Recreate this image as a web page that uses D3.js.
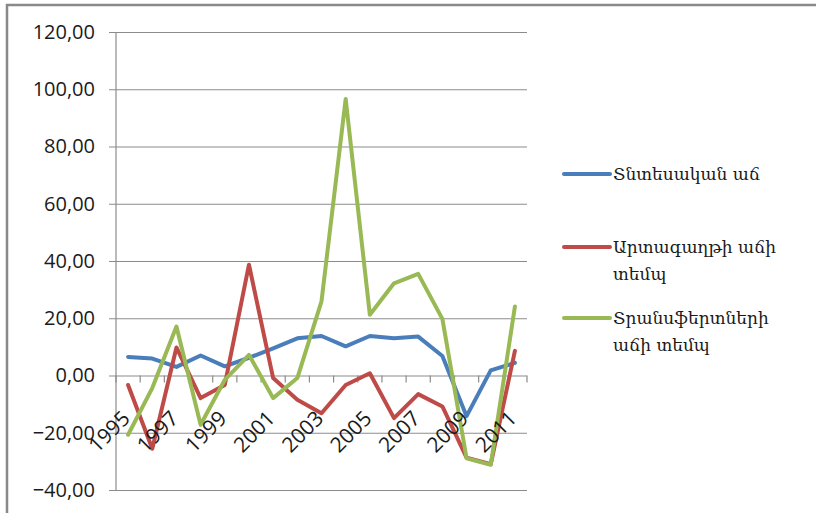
<!DOCTYPE html>
<html>
<head>
<meta charset="utf-8">
<script src="https://cdn.jsdelivr.net/npm/d3@7"></script>
<style>
  body { margin: 0; background: #fff; overflow: hidden; }
  svg { display: block; }
</style>
</head>
<body>
<svg id="chart"></svg>
<script>
const years = d3.range(1995, 2012).map(String);
const yearLabels = ["1995", "1997", "1999", "2001", "2003", "2005", "2007", "2009", "2011"];
const yTicks = [-40, -20, 0, 20, 40, 60, 80, 100, 120];

// Տնտեսական աճ
const growth = [6.5, 5.9, 3.0, 7.0, 3.2, 6.2, 9.5, 13.0, 13.8, 10.2, 13.8, 13.0, 13.6, 6.8, -14.2, 1.8, 4.4];
// Արտագաղթի աճի տեմպ
const emigration = [-3.3, -25.6, 9.8, -7.9, -3.3, 38.7, -0.9, -8.5, -13.2, -3.3, 0.8, -14.9, -6.5, -10.8, -28.7, -31.0, 8.6];
// Տրանսֆերտների աճի տեմպ
const transfers = [-20.7, -4.4, 17.1, -17.2, -1.5, 7.2, -7.9, -0.9, 25.9, 96.6, 21.2, 32.2, 35.5, 19.8, -28.9, -31.2, 24.1];

const seriesNames = [["Տնտեսական աճ"], ["Արտագաղթի աճի", "տեմպ"], ["Տրանսֆերտների", "աճի տեմպ"]];
const seriesColors = ["#4a7ebb", "#be4b48", "#98b954"];

const width = 816, height = 513;
const plot = { left: 116, right: 527, top: 32, bottom: 490 };

const svg = d3.select("#chart").attr("width", width).attr("height", height);

// outer frame: only left and top edges are visible
svg.append("path")
  .attr("d", "M7,600V5H830")
  .attr("fill", "none")
  .attr("stroke", "#898989")
  .attr("stroke-width", 2.5);

const x = d3.scaleBand().domain(years).range([plot.left, plot.right]);
const y = d3.scaleLinear().domain([-40, 120]).range([plot.bottom, plot.top]);

// y axis with gridlines
const yAxis = svg.append("g")
  .attr("transform", `translate(${plot.left - 7},0)`)
  .call(d3.axisLeft(y).tickValues(yTicks).tickSize(-(plot.right - plot.left + 7)).tickPadding(14)
    .tickFormat(d => d3.format(".2f")(d).replace(".", ",")));
yAxis.select(".domain").remove();
yAxis.selectAll(".tick line").attr("stroke", "#8c8c8c").attr("stroke-width", 1.2);
yAxis.selectAll(".tick text")
  .attr("font-family", "Open Sans, sans-serif")
  .attr("font-size", 20)
  .attr("fill", "#1a1a1a");

svg.append("line")
  .attr("x1", plot.left).attr("x2", plot.left)
  .attr("y1", plot.top).attr("y2", plot.bottom)
  .attr("stroke", "#8c8c8c").attr("stroke-width", 1.2);

// x axis on the zero line
const y0 = y(0);
const xTicks = years.map(d => x(d)).concat([x.range()[1]]);
svg.append("g").selectAll("line").data(xTicks).join("line")
  .attr("x1", d => d).attr("x2", d => d)
  .attr("y1", y0).attr("y2", y0 + 7)
  .attr("stroke", "#8c8c8c").attr("stroke-width", 1.2);

// series lines
const line = d3.line()
  .x((d, i) => x(years[i]) + x.bandwidth() / 2)
  .y(d => y(d));

svg.append("g").selectAll("path").data([growth, emigration, transfers]).join("path")
  .attr("d", line)
  .attr("fill", "none")
  .attr("stroke", (d, i) => seriesColors[i])
  .attr("stroke-width", 4)
  .attr("stroke-linejoin", "round")
  .attr("stroke-linecap", "round");

// year labels, drawn over the lines like Excel does
svg.append("g").selectAll("text").data(yearLabels).join("text")
  .attr("transform", d => `translate(${x(d) + x.bandwidth() / 2 - 2},${y0 + 39}) rotate(-45)`)
  .attr("text-anchor", "end")
  .attr("dy", "0.35em")
  .attr("font-family", "Open Sans, sans-serif")
  .attr("font-size", 21)
  .attr("fill", "#1a1a1a")
  .text(d => d);

// legend
const legendY = [174, 247, 318];
const legend = svg.append("g").selectAll("g").data(seriesNames).join("g")
  .attr("transform", (d, i) => `translate(564,${legendY[i]})`);
legend.append("line")
  .attr("x1", 0).attr("x2", 46)
  .attr("stroke", (d, i) => seriesColors[i])
  .attr("stroke-width", 4)
  .attr("stroke-linecap", "round");
legend.append("text")
  .attr("font-family", "DejaVu Serif, serif")
  .attr("font-size", 17)
  .attr("fill", "#1a1a1a")
  .selectAll("tspan").data(d => d).join("tspan")
  .attr("x", 49)
  .attr("y", (d, i) => 6 + i * 27)
  .text(d => d);
</script>
</body>
</html>
